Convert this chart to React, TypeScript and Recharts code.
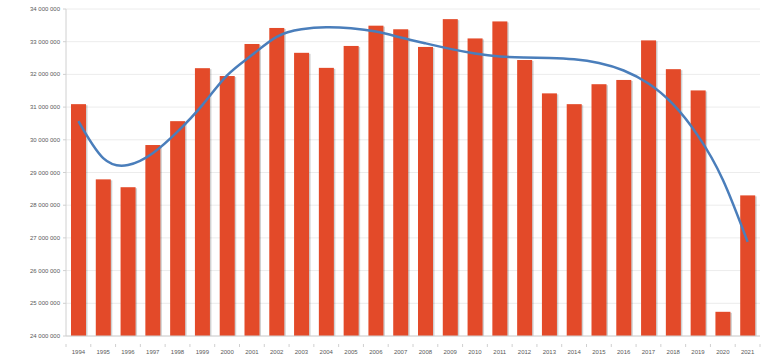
import React from "react";
import { ComposedChart, Bar, Line, XAxis, YAxis, CartesianGrid } from "recharts";

const years = [
  "1994", "1995", "1996", "1997", "1998", "1999", "2000", "2001", "2002", "2003",
  "2004", "2005", "2006", "2007", "2008", "2009", "2010", "2011", "2012", "2013",
  "2014", "2015", "2016", "2017", "2018", "2019", "2020", "2021",
];

const values = [
  31090000, 28790000, 28550000, 29840000, 30570000, 32190000, 31950000, 32930000, 33420000, 32660000,
  32200000, 32870000, 33490000, 33380000, 32840000, 33690000, 33100000, 33620000, 32440000, 31420000,
  31090000, 31700000, 31830000, 33040000, 32160000, 31510000, 24740000, 28300000,
];

const trend = [
  30570000, 29440000, 29230000, 29590000, 30250000, 31060000, 31970000, 32590000, 33150000, 33380000,
  33440000, 33410000, 33310000, 33130000, 32950000, 32780000, 32640000, 32550000, 32520000, 32500000,
  32460000, 32350000, 32120000, 31720000, 31080000, 30120000, 28780000, 26880000,
];

const yTicks = [24000000, 25000000, 26000000, 27000000, 28000000, 29000000, 30000000, 31000000, 32000000, 33000000, 34000000];

const data = years.map((y, i) => ({ year: y, value: values[i], trend: trend[i] }));

const W = 770;
const H = 362;
const M = { top: 9, right: 10, bottom: 0, left: 0 };
const Y_W = 66;
const BAND = (W - M.right - M.left - Y_W) / years.length;

const fmt = (v: number) => {
  const s = String(Math.round(v));
  return s.replace(/\B(?=(\d{3})+(?!\d))/g, "\u00A0");
};

const TEXT = "#595959";
const AXIS = "#d0d0d0";
const FONT = "'Liberation Sans', Arial, sans-serif";

const XTick = (props: any) => {
  const { x, y, payload, index } = props;
  const last = index === years.length - 1;
  return (
    <g>
      <line x1={x - BAND / 2} x2={x - BAND / 2} y1={y} y2={y + 3} stroke={AXIS} strokeWidth={1} />
      {last && <line x1={x + BAND / 2} x2={x + BAND / 2} y1={y} y2={y + 3} stroke={AXIS} strokeWidth={1} />}
      <text x={x} y={y + 10} textAnchor="middle" fontSize={6} fill={TEXT} fontFamily={FONT}>
        {payload.value}
      </text>
    </g>
  );
};

const YTick = (props: any) => {
  const { x, y, payload } = props;
  return (
    <text x={x} y={y + 2} textAnchor="end" fontSize={6} fill={TEXT} fontFamily={FONT}>
      {fmt(payload.value)}
    </text>
  );
};

const ShadowBar = (props: any) => {
  const { x, y, width, height, fill } = props;
  if (!height || height <= 0) return null;
  return (
    <g>
      <rect x={x + 1.5} y={y + 1} width={width} height={height - 1} fill="rgba(0,0,0,0.18)" />
      <rect x={x} y={y} width={width} height={height} fill={fill} />
    </g>
  );
};

export default function App() {
  return (
    <div style={{ position: "absolute", left: 0, top: 0, width: W, height: H, background: "#fff" }}>
      <ComposedChart width={W} height={H} data={data} margin={M}>
        <CartesianGrid horizontal vertical={false} stroke="#ececec" />
        <XAxis
          dataKey="year"
          height={26}
          tickLine={false}
          axisLine={{ stroke: AXIS }}
          tick={<XTick />}
          interval={0}
        />
        <YAxis
          width={Y_W}
          domain={[24000000, 34000000]}
          ticks={yTicks}
          axisLine={{ stroke: AXIS }}
          tickLine={{ stroke: AXIS }}
          tickSize={3}
          tickMargin={3}
          tick={<YTick />}
          allowDataOverflow
        />
        <Bar dataKey="value" fill="#E34A29" barSize={15} shape={<ShadowBar />} isAnimationActive={false} />
        <Line
          dataKey="trend"
          type="natural"
          stroke="#4A7EBB"
          strokeWidth={2.5}
          dot={false}
          activeDot={false}
          isAnimationActive={false}
        />
      </ComposedChart>
    </div>
  );
}
